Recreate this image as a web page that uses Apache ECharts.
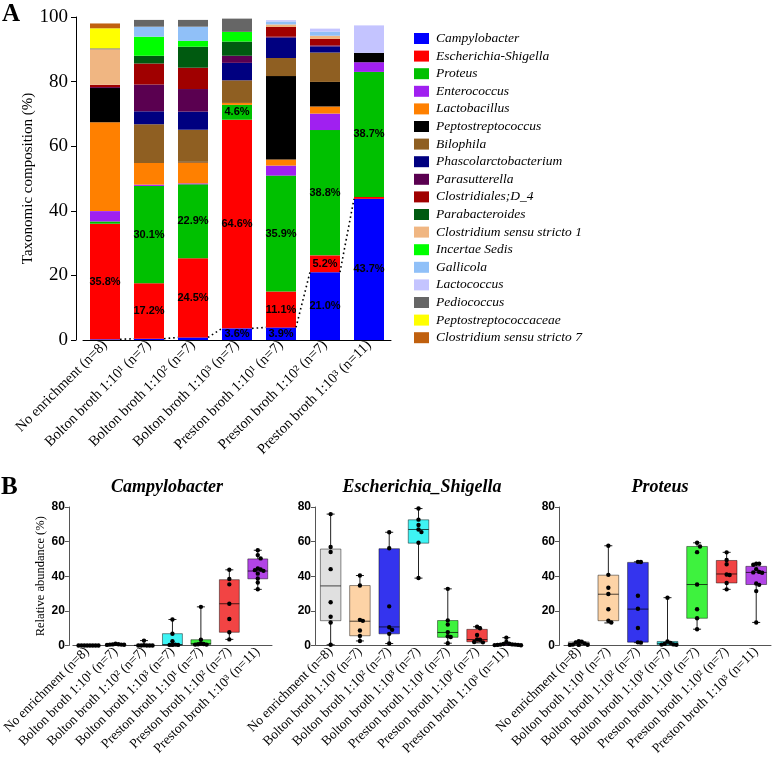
<!DOCTYPE html>
<html><head><meta charset="utf-8">
<script src="https://cdn.jsdelivr.net/npm/echarts@6/dist/echarts.min.js"></script>
<style>html,body{margin:0;padding:0;background:#fff}#c{width:778px;height:758px}</style>
</head><body><div id="c"></div>
<script>
// ---------- DATA ----------
const groups = ['No enrichment (n=8)', 'Bolton broth 1:10¹ (n=7)', 'Bolton broth 1:10² (n=7)', 'Bolton broth 1:10³ (n=7)',
  'Preston broth 1:10¹ (n=7)', 'Preston broth 1:10² (n=7)', 'Preston broth 1:10³ (n=11)'];

const taxa = ['Campylobacter', 'Escherichia-Shigella', 'Proteus', 'Enterococcus', 'Lactobacillus', 'Peptostreptococcus',
  'Bilophila', 'Phascolarctobacterium', 'Parasutterella', 'Clostridiales;D_4', 'Parabacteroides',
  'Clostridium sensu stricto 1', 'Incertae Sedis', 'Gallicola', 'Lactococcus', 'Pediococcus',
  'Peptostreptococcaceae', 'Clostridium sensu stricto 7'];
const taxaColors = ['#0000ff', '#ff0000', '#00c000', '#a020f0', '#ff8000', '#000000', '#8f5f22', '#000080', '#5a0050',
  '#a00000', '#005a10', '#f0b682', '#00ff00', '#90c0f8', '#c4c4ff', '#666666', '#ffff00', '#c0600e'];

const Campylobacter = [0.2, 0.4, 0.8, 3.6, 3.9, 21.0, 43.7];
const Escherichia = [35.8, 17.2, 24.5, 64.6, 11.1, 5.2, 0.6];
const Proteus = [0.7, 30.1, 22.9, 4.6, 35.9, 38.8, 38.7];
const Enterococcus = [3.2, 0.4, 0.3, 0, 3.1, 5.1, 3.0];
const Lactobacillus = [27.5, 6.7, 6.5, 0.6, 1.9, 2.2, 0];
const Peptostreptococcus = [10.6, 0, 0.2, 0, 25.8, 7.6, 2.9];
const Bilophila = [0, 12.0, 9.9, 7.0, 5.6, 9.1, 0];
const Phascolarctobacterium = [0, 4.0, 5.6, 5.4, 6.3, 1.9, 0];
const Parasutterella = [0.3, 8.3, 7.0, 2.2, 0.3, 0.3, 0];
const ClostridialesD4 = [0.7, 6.5, 6.6, 0, 3.0, 2.0, 0];
const Parabacteroides = [0, 2.4, 6.5, 4.4, 0, 0, 0];
const ClostridiumSS1 = [11.0, 0, 0, 0, 0.8, 1.0, 0];
const IncertaeSedis = [0, 5.9, 1.8, 3.0, 0, 0, 0];
const Gallicola = [0, 3.1, 4.4, 0, 0.9, 1.3, 0];
const Lactococcus = [0, 0, 0, 0, 0.4, 0.9, 8.5];
const Pediococcus = [0.3, 2.1, 2.1, 4.1, 0, 0, 0];
const Peptostreptococcaceae = [6.2, 0, 0, 0, 0, 0, 0];
const ClostridiumSS7 = [1.5, 0, 0, 0, 0, 0, 0];
const taxaValues = [Campylobacter, Escherichia, Proteus, Enterococcus, Lactobacillus, Peptostreptococcus, Bilophila,
  Phascolarctobacterium, Parasutterella, ClostridialesD4, Parabacteroides, ClostridiumSS1, IncertaeSedis, Gallicola,
  Lactococcus, Pediococcus, Peptostreptococcaceae, ClostridiumSS7];
// which bars carry a percentage label, per taxon index
const labelled = {0: [3, 4, 5, 6], 1: [0, 1, 2, 3, 4, 5], 2: [1, 2, 3, 4, 5, 6]};

// Box plots: [min, Q1, median, Q3, max]
const campyBox = [[0,0,0,0,0],[0.3,0.4,0.5,0.7,1.0],[0,0,0,0.1,2.8],[0.3,0.3,0.5,6.8,15.0],[0.5,0.6,1.0,3.3,22.3],[3.5,7.6,24.1,38.0,43.7],[32.4,38.5,43.0,50.0,55.0]];
const campyDots = [[0,0,0,0,0,0,0,0],[1.0,0.7,0.6,0.5,0.5,0.4,0.3],[2.8,0.1,0,0,0,0,0],[15.0,6.8,2.4,0.5,0.3,0.3,0.3],[22.3,3.3,1.0,0.8,0.7,0.5,0.5],[43.7,38.4,35.3,24.1,15.3,7.6,3.5],[55.0,52.2,50.3,44.5,43.9,43.5,43.1,41.5,38.7,36.4,32.5]];
const eschBox = [[0.4,14.3,34.4,55.7,75.9],[2.6,5.6,14.0,34.6,40.4],[1.1,6.7,10.7,55.9,65.4],[38.9,59.1,67.0,72.6,79.1],[1.3,4.7,7.5,14.4,32.7],[1.5,2.1,3.4,9.3,10.8],[0.1,0.2,0.5,1.0,4.5]];
const eschDots = [[75.9,56.9,54.0,44.1,25.0,16.6,13.3,0.4],[40.4,34.6,14.8,14.2,8.6,5.5,2.6],[65.4,56.2,22.6,10.5,9.0,6.7,1.1],[79.1,72.7,69.6,67.0,65.5,59.3,39.0],[32.7,14.5,12.1,7.7,5.3,4.9,1.3],[10.8,9.9,6.0,3.5,3.3,2.0,1.8],[4.5,2.0,1.0,0.8,0.6,0.5,0.5,0.3,0.3,0.2,0.1]];
const protBox = [[0.3,0.4,0.8,2.0,2.4],[13.0,14.3,29.6,40.6,57.6],[1.6,1.9,21.0,48.0,48.3],[0.4,0.4,1.2,2.3,27.6],[9.4,15.7,35.2,57.2,59.3],[32.4,36.1,41.3,49.1,53.8],[13.3,35.2,42.2,45.7,47.2]];
const protDots = [[2.4,2.1,1.8,1.2,0.5,0.4,0.3,0.3],[57.6,40.8,33.3,29.7,20.9,14.3,13.3],[48.3,48.2,28.7,21.2,10.1,1.8,1.6],[27.6,2.3,1.5,0.9,0.6,0.5,0.4],[59.3,57.2,53.9,35.2,20.9,15.7,9.4],[53.8,49.4,46.9,41.0,40.7,36.1,32.4],[47.2,47.2,46.6,44.0,42.5,42.2,42.0,35.8,35.0,31.4,13.3]];
const boxColors = ['#e0e0e0', '#fdd3a6', '#3434ee', '#3ef4f4', '#3ef23e', '#f24444', '#b244e6'];

// ---------- BUILD ----------
const serif = 'Liberation Serif';
const sans = 'Liberation Sans';
const BAR_W = 30;
const series = [];
taxa.forEach((name, k) => {
  const lab = labelled[k] || [];
  series.push({
    type: 'bar', name, stack: 'tot', data: taxaValues[k], barWidth: BAR_W,
    xAxisIndex: 0, yAxisIndex: 0,
    itemStyle: {color: taxaColors[k]}, emphasis: {disabled: true},
    label: {show: lab.length > 0, position: 'inside', color: '#000', fontFamily: sans, fontWeight: 'bold', fontSize: 11,
      formatter: p => lab.includes(p.dataIndex) ? p.value.toFixed(1) + '%' : ''}
  });
});
// dotted connector between Campylobacter tops (bar edge to next bar edge)
series.push({type: 'custom', xAxisIndex: 0, yAxisIndex: 0, silent: true, z: 5,
  encode: {x: 0, y: [1, 2]},
  data: Campylobacter.slice(0, -1).map((v, i) => [i, v, Campylobacter[i + 1]]),
  renderItem: (params, api) => {
    const i = api.value(0);
    const a = api.coord([i, api.value(1)]);
    const b = api.coord([i + 1, api.value(2)]);
    return {type: 'line', shape: {x1: a[0] + BAR_W / 2, y1: a[1], x2: b[0] - BAR_W / 2, y2: b[1]},
      style: {stroke: '#000', lineWidth: 1.6, lineDash: [1.6, 3]}};
  }});

function swarm(vals) {
  const placed = [], out = [];
  vals.forEach(v => {
    for (const c of [0, 1, -1, 2, -2, 3, -3, 4, -4, 5]) {
      if (placed.every(p => Math.abs(p.v - v) >= 2.1 || Math.abs(p.o - c) >= 1)) { placed.push({v, o: c}); out.push(c); break; }
    }
  });
  return out;
}
function boxRender(params, api) {
  const i = api.value(0);
  const p = [1, 2, 3, 4, 5].map(k => api.coord([i, api.value(k)]));
  const bw = api.size([1, 0])[0] * 0.7;
  const cx = p[0][0], cap = 4;
  const ls = {stroke: '#222', lineWidth: 1};
  return {type: 'group', children: [
    {type: 'line', shape: {x1: cx, y1: p[0][1], x2: cx, y2: p[1][1]}, style: ls},
    {type: 'line', shape: {x1: cx, y1: p[3][1], x2: cx, y2: p[4][1]}, style: ls},
    {type: 'line', shape: {x1: cx - cap, y1: p[0][1], x2: cx + cap, y2: p[0][1]}, style: ls},
    {type: 'line', shape: {x1: cx - cap, y1: p[4][1], x2: cx + cap, y2: p[4][1]}, style: ls},
    {type: 'rect', shape: {x: cx - bw / 2, y: p[3][1], width: bw, height: p[1][1] - p[3][1]},
      style: {fill: boxColors[i], stroke: 'rgba(0,0,0,0.45)', lineWidth: 1}},
    {type: 'line', shape: {x1: cx - bw / 2, y1: p[2][1], x2: cx + bw / 2, y2: p[2][1]}, style: {stroke: 'rgba(0,0,0,0.7)', lineWidth: 1}}
  ]};
}
function dotRender(params, api) {
  const pt = api.coord([api.value(0), api.value(1)]);
  const bw = api.size([1, 0])[0];
  return {type: 'circle', shape: {cx: pt[0] + api.value(2) * bw * 0.1, cy: pt[1], r: 2.2}, style: {fill: '#000'}};
}
const panels = [
  {box: campyBox, dots: campyDots, left: 64, width: 208, off: 4, title: 'Campylobacter', tx: 167},
  {box: eschBox, dots: eschDots, left: 316, width: 205, off: 1, title: 'Escherichia_Shigella', tx: 422},
  {box: protBox, dots: protDots, left: 564, width: 207, off: 5, title: 'Proteus', tx: 660}
];
const grids = [{left: 83, top: 17, width: 308, height: 323}];
const xAxes = [
  {gridIndex: 0, type: 'category', data: groups, axisLine: {lineStyle: {color: '#000', width: 1}}, axisTick: {show: false},
    axisLabel: {rotate: 45, interval: 0, fontFamily: serif, fontSize: 14.5, color: '#000', margin: 3}}
];
const yAxes = [
  {gridIndex: 0, type: 'value', min: 0, max: 100, interval: 20, offset: 7,
    axisLine: {show: true, lineStyle: {color: '#000'}}, axisTick: {show: true, length: 5, lineStyle: {color: '#000'}},
    splitLine: {show: false}, axisLabel: {fontFamily: serif, fontSize: 19, color: '#000', margin: 8},
    name: 'Taxonomic composition (%)', nameLocation: 'middle', nameGap: 40, nameRotate: 90,
    nameTextStyle: {fontFamily: serif, fontSize: 15, color: '#000'}}
];
const graphics = [
  {type: 'text', x: 2, y: 2, style: {text: 'A', font: 'bold 25px "Liberation Serif"', fill: '#000'}},
  {type: 'text', x: 1, y: 475, style: {text: 'B', font: 'bold 25px "Liberation Serif"', fill: '#000'}}
];
panels.forEach((pn, j) => {
  const g = j + 1;
  grids.push({left: pn.left, top: 507, width: pn.width, height: 144});
  xAxes.push({gridIndex: g, type: 'category', data: groups, axisLine: {lineStyle: {color: '#555'}}, axisTick: {show: false},
    axisLabel: {rotate: 45, interval: 0, fontFamily: serif, fontSize: 13.5, color: '#000', margin: 4}});
  yAxes.push({gridIndex: g, type: 'value', min: 0, max: 80, interval: 20, offset: pn.off,
    axisLine: {show: true, lineStyle: {color: '#555'}}, axisTick: {show: true, length: 4, lineStyle: {color: '#555'}},
    splitLine: {show: false}, axisLabel: {fontFamily: sans, fontWeight: 'bold', fontSize: 12, color: '#000', margin: 4},
    name: j === 0 ? 'Relative abundance (%)' : '', nameLocation: 'middle', nameGap: 21, nameRotate: 90,
    nameTextStyle: {fontFamily: serif, fontSize: 12.5, color: '#000'}});
  series.push({type: 'custom', xAxisIndex: g, yAxisIndex: g, renderItem: boxRender, silent: true,
    encode: {x: 0, y: [1, 2, 3, 4, 5]}, data: pn.box.map((b, i) => [i, ...b])});
  const dd = [];
  pn.dots.forEach((vals, i) => { const o = swarm(vals); vals.forEach((v, k) => dd.push([i, v, o[k]])); });
  series.push({type: 'custom', xAxisIndex: g, yAxisIndex: g, renderItem: dotRender, silent: true, z: 4,
    encode: {x: 0, y: 1}, data: dd});
  graphics.push({type: 'text', x: pn.tx, y: 487, style: {text: pn.title, align: 'center', verticalAlign: 'middle',
    font: 'italic bold 18px "Liberation Serif"', fill: '#000'}});
});

const chart = echarts.init(document.getElementById('c'), null, {renderer: 'canvas'});
chart.setOption({
  animation: false,
  backgroundColor: '#fff',
  grid: grids, xAxis: xAxes, yAxis: yAxes, series, graphic: graphics,
  legend: {orient: 'vertical', left: 409, top: 26, itemWidth: 15, itemHeight: 11, itemGap: 2.6, icon: 'rect',
    selectedMode: false, data: taxa,
    textStyle: {fontFamily: serif, fontStyle: 'italic', fontSize: 13.5, lineHeight: 15, color: '#000', padding: [0, 0, 0, 2]}}
});
</script></body></html>
